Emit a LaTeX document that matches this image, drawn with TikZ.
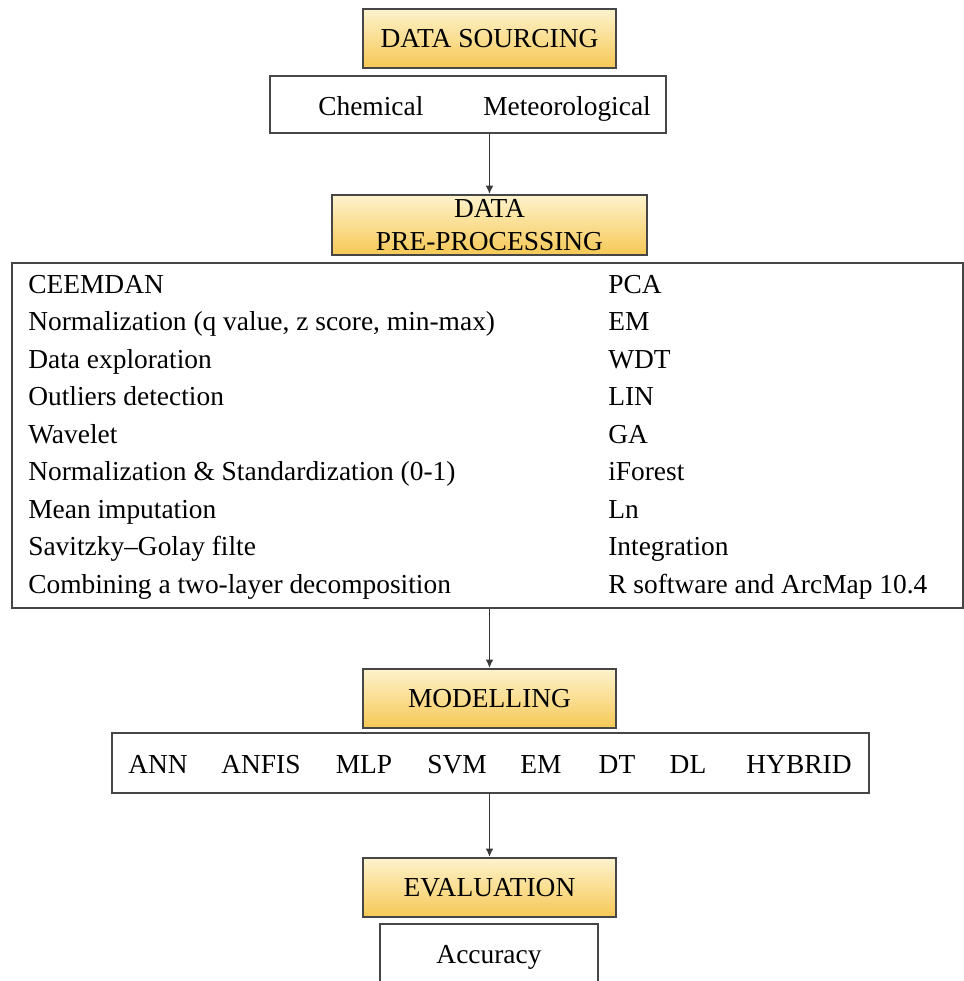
\documentclass[tikz,border=0pt]{standalone}
\usepackage{fontspec}
\setmainfont{Liberation Serif}
\usetikzlibrary{arrows.meta}
\definecolor{boxline}{RGB}{70,70,70}
\definecolor{goldtop}{RGB}{253,243,205}
\definecolor{goldbot}{RGB}{246,200,85}

\begin{document}
\begin{tikzpicture}[x=0.025cm, y=-0.025cm]
	\tikzstyle{stage} = [draw=boxline, line width=1.2pt, top color=goldtop, bottom color=goldbot, minimum width=6.33cm, minimum height=1.48cm, inner sep=0pt, font=\fontsize{19.5}{24}\selectfont]
	\tikzstyle{group} = [draw=boxline, line width=1.2pt, fill=white, inner sep=0pt, font=\fontsize{19.5}{23}\selectfont]
	\tikzstyle{item}  = [inner sep=0pt, font=\fontsize{19.5}{23}\selectfont]
	\tikzstyle{link}  = [draw=boxline!80!black, line width=1.3pt, -{Latex[length=6pt, width=5.5pt]}]

	\useasboundingbox (0, 0) rectangle (964, 981);
	\clip (0, 0) rectangle (964, 981);

	\node[stage] (src) at (489.5, 38.5) {DATA SOURCING};
	\node[group, minimum width=9.9cm, minimum height=1.43cm] (srcbox) at (468, 104.5) {};
	\node[item, anchor=base west] (chem) at (318, 115) {Chemical};
	\node[item, anchor=base west] (met) at (483, 115) {Meteorological};

	\node[stage, minimum width=7.88cm, minimum height=1.5cm, align=center] (pre) at (489.5, 225) {DATA\\PRE-PROCESSING};
	\node[group, minimum width=23.78cm, minimum height=8.63cm] (prebox) at (487.5, 435.5) {};

	\foreach \txt [count=\i] in {CEEMDAN, {Normalization (q value, z score, min-max)}, Data exploration, Outliers detection, Wavelet, {Normalization \& Standardization (0-1)}, Mean imputation, Savitzky–Golay filte, Combining a two-layer decomposition}
		\node[item, anchor=base west] (l\i) at (28, {293+37.5*(\i-1)}) {\txt};

	\foreach \txt [count=\i] in {PCA, EM, WDT, LIN, GA, iForest, Ln, Integration, R software and ArcMap 10.4}
		\node[item, anchor=base west] (r\i) at (608, {293+37.5*(\i-1)}) {\txt};

	\node[stage] (mod) at (489.5, 698.5) {MODELLING};
	\node[group, minimum width=18.93cm, minimum height=1.5cm] (modbox) at (490.5, 763) {};

	\foreach \name/\txt/\x in {ann/ANN/158, anfis/ANFIS/261, mlp/MLP/364, svm/SVM/457, em/EM/541, dt/DT/617, dl/DL/688, hybrid/HYBRID/799}
		\node[item, anchor=base] (\name) at (\x, 773) {\txt};

	\node[stage] (eval) at (489.5, 887.5) {EVALUATION};
	\node[group, minimum width=5.45cm, minimum height=1.65cm] (acc) at (489, 957) {Accuracy};

	\draw[link] (srcbox.south -| pre.north) -- (pre.north);
	\draw[link] (prebox.south -| mod.north) -- (mod.north);
	\draw[link] (modbox.south -| eval.north) -- (eval.north);
\end{tikzpicture}
\end{document}
